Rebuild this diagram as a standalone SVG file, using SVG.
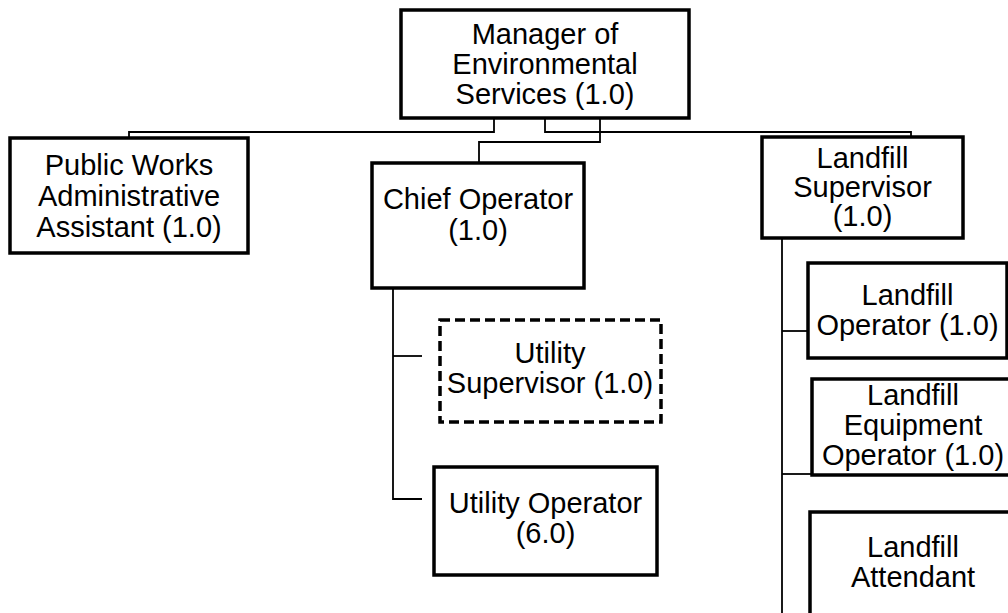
<svg xmlns="http://www.w3.org/2000/svg" width="1008" height="613" viewBox="0 0 1008 613">
<style>
.box{fill:#fff;stroke:#000;stroke-width:3.5}
.dash{fill:#fff;stroke:#000;stroke-width:3.5;stroke-dasharray:10 5}
.ln{fill:none;stroke:#000;stroke-width:1.8}
text{font-family:"Liberation Sans",Arial,sans-serif;font-size:29px;text-anchor:middle;fill:#000}
</style>
<rect width="1008" height="613" fill="#fff"/>
<g id="connectors">
<polyline class="ln" points="494,118 494,132 129,132 129,138"/>
<polyline class="ln" points="545,118 545,132 911,132 911,137"/>
<polyline class="ln" points="600,118 600,142 479,142 479,163"/>
<polyline class="ln" points="393,288 393,499 422,499"/>
<line class="ln" x1="393" y1="356" x2="422" y2="356"/>
<line class="ln" x1="782" y1="238" x2="782" y2="613"/>
<line class="ln" x1="782" y1="331" x2="808" y2="331"/>
<line class="ln" x1="782" y1="474" x2="812" y2="474"/>
</g>
<g id="manager">
<rect class="box" x="401" y="10" width="288" height="108"/>
<text x="545" y="44">Manager of</text>
<text x="545" y="74">Environmental</text>
<text x="545" y="104">Services (1.0)</text>
</g>
<g id="admin">
<rect class="box" x="10" y="138" width="238" height="115"/>
<text x="129" y="175">Public Works</text>
<text x="129" y="206">Administrative</text>
<text x="129" y="237">Assistant (1.0)</text>
</g>
<g id="chief">
<rect class="box" x="372" y="163" width="212" height="125"/>
<text x="478" y="209">Chief Operator</text>
<text x="478" y="240">(1.0)</text>
</g>
<g id="landfill-supervisor">
<rect class="box" x="762" y="137" width="201" height="101"/>
<text x="862.5" y="168">Landfill</text>
<text x="862.5" y="197">Supervisor</text>
<text x="862.5" y="226">(1.0)</text>
</g>
<g id="utility-supervisor">
<rect class="dash" x="440" y="320" width="221" height="102"/>
<text x="550" y="363">Utility</text>
<text x="550" y="393">Supervisor (1.0)</text>
</g>
<g id="utility-operator">
<rect class="box" x="434" y="467" width="223" height="108"/>
<text x="545.5" y="513">Utility Operator</text>
<text x="545.5" y="543">(6.0)</text>
</g>
<g id="landfill-operator">
<rect class="box" x="808" y="263" width="199" height="95"/>
<text x="907.5" y="305">Landfill</text>
<text x="907.5" y="335">Operator (1.0)</text>
</g>
<g id="landfill-equipment-operator">
<rect class="box" x="812" y="379" width="202" height="96"/>
<text x="913" y="405">Landfill</text>
<text x="913" y="435">Equipment</text>
<text x="913" y="465">Operator (1.0)</text>
</g>
<g id="landfill-attendant">
<rect class="box" x="810" y="512" width="206" height="120"/>
<text x="913" y="557">Landfill</text>
<text x="913" y="587">Attendant</text>
</g>
</svg>
